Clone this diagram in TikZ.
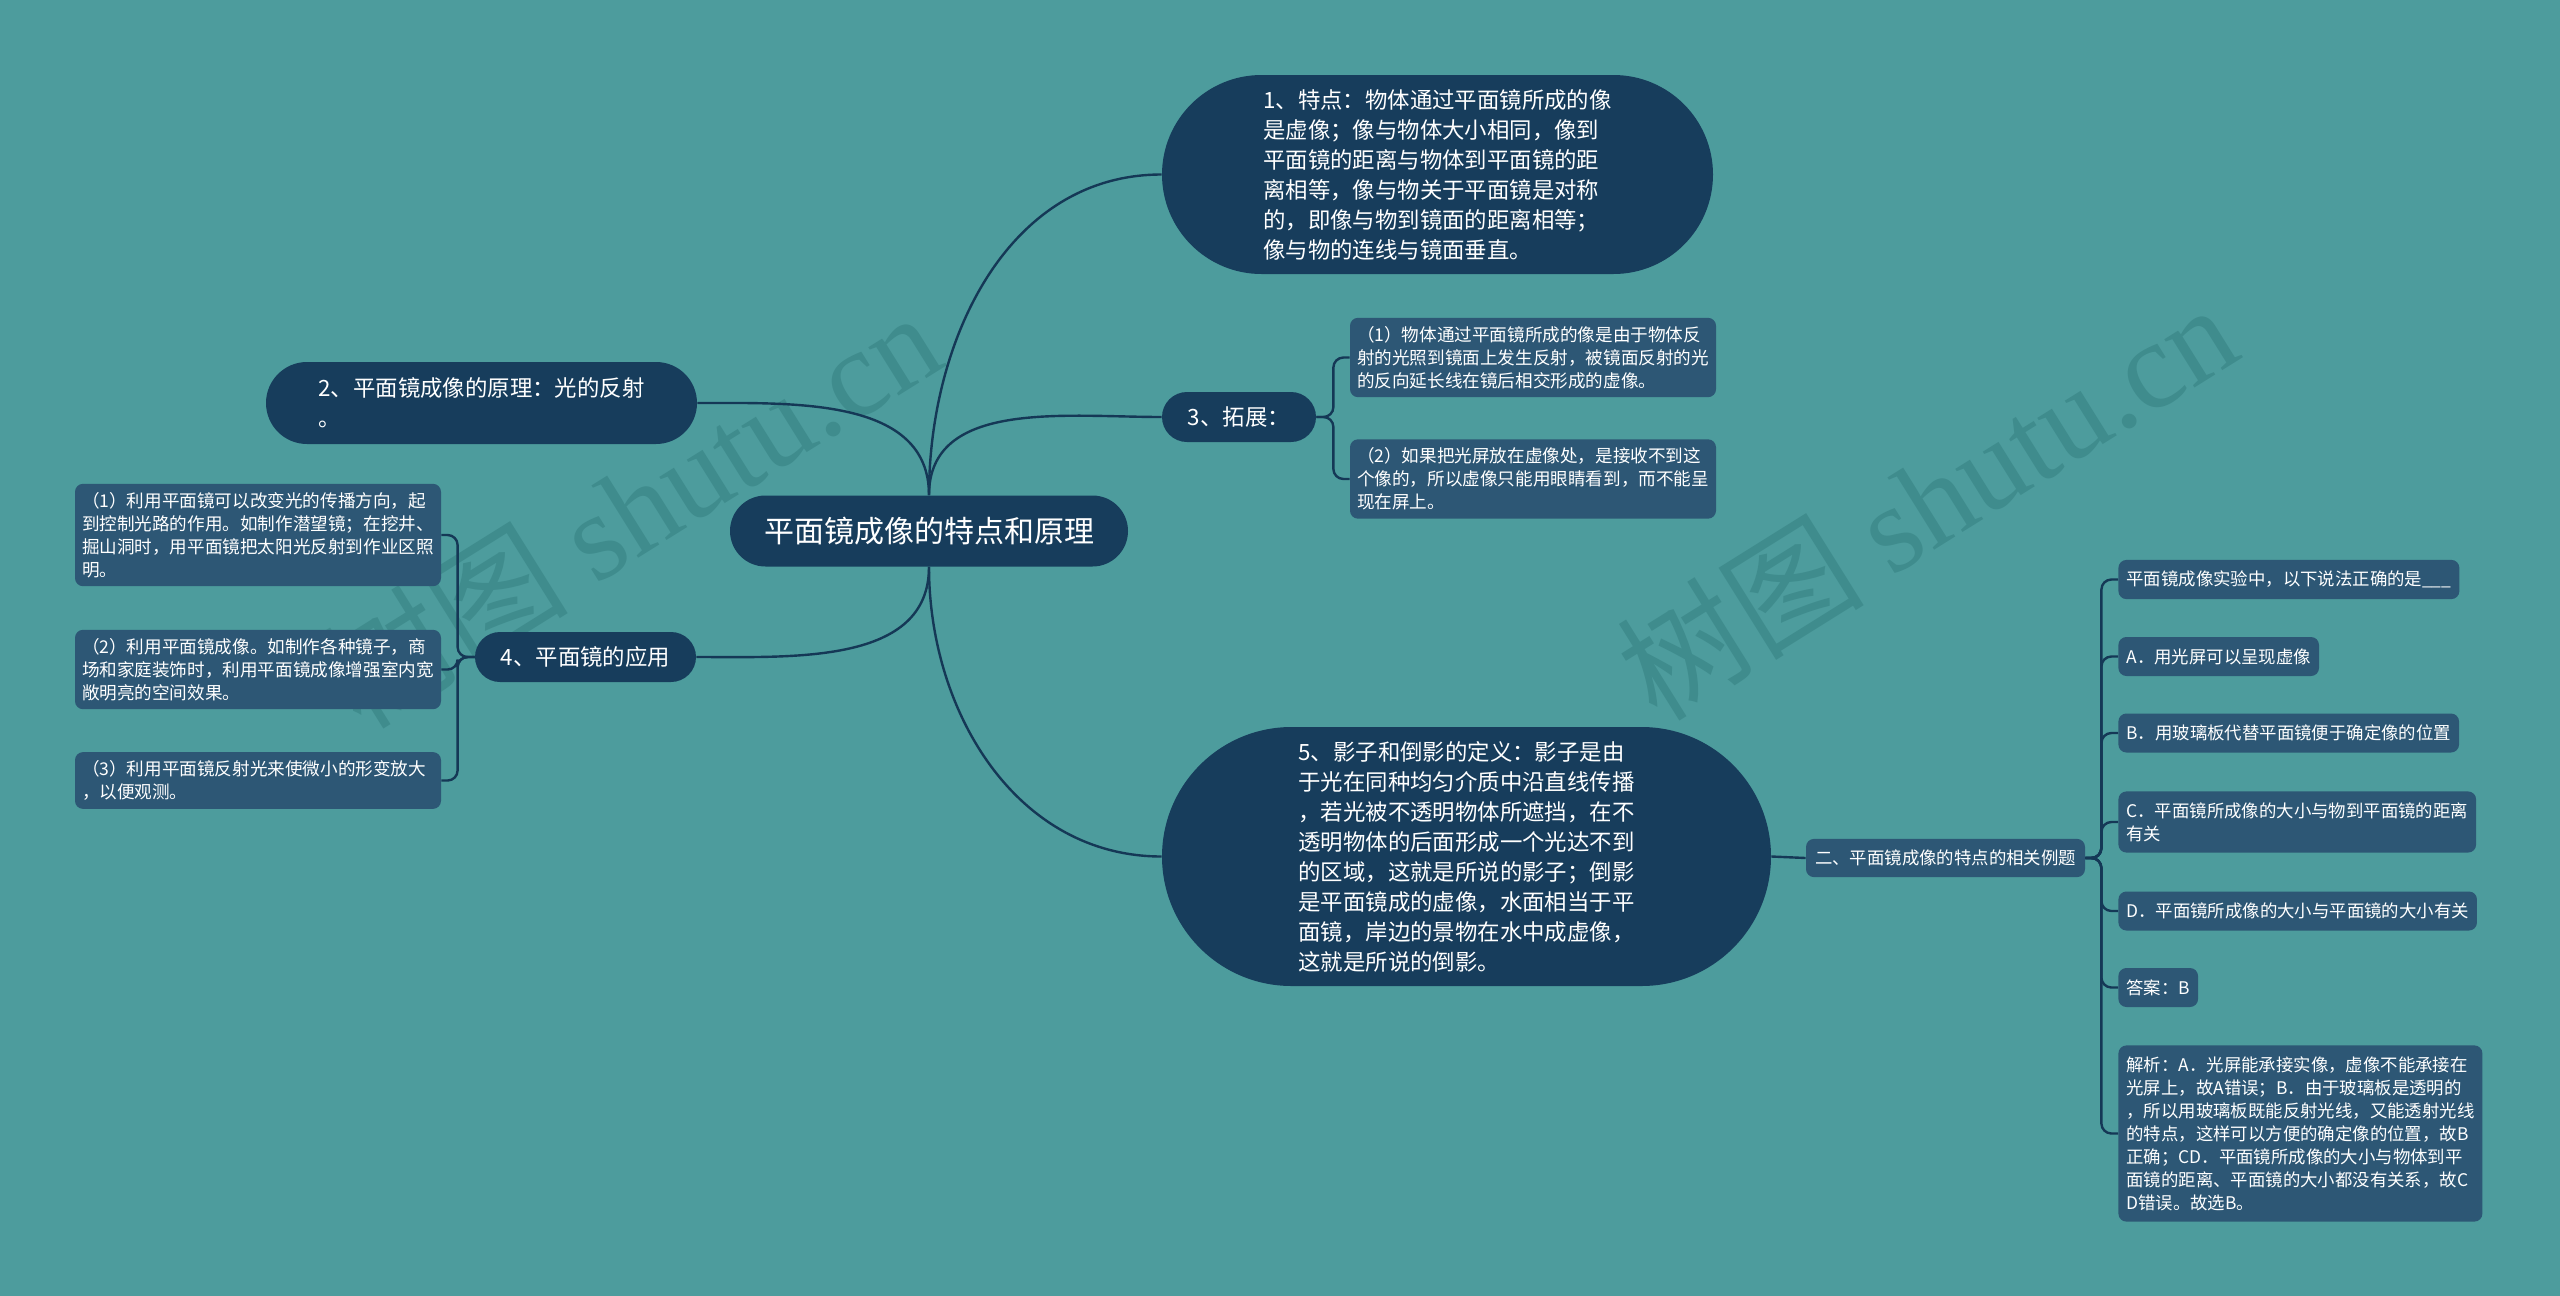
\documentclass[tikz,border=0pt]{standalone}
\usepackage{fontspec}
\setmainfont{Noto Sans CJK SC}
\newfontfamily\wmfont{Liberation Serif}
\usetikzlibrary{shapes.misc}

\definecolor{bgteal}{RGB}{77,156,157}
\definecolor{topicblue}{RGB}{23,61,92}
\definecolor{leafblue}{RGB}{45,87,117}
\definecolor{linkblue}{RGB}{21,56,86}
\definecolor{wmteal}{RGB}{63,140,141}

\tikzset{
  topic/.style={rounded rectangle, fill=topicblue, text=white, inner sep=0pt, align=left,
    font=\fontsize{11.2pt}{15pt}\selectfont},
  leaf/.style={rectangle, rounded corners=4pt, fill=leafblue, text=white, inner xsep=3.5pt,
    inner ysep=4.2pt, text width=176pt, align=left, font=\fontsize{8.8pt}{11.5pt}\selectfont},
  item/.style={rectangle, rounded corners=4pt, fill=leafblue, text=white, inner xsep=4pt,
    inner ysep=5.5pt, minimum height=19.5pt, align=left, anchor=west,
    font=\fontsize{8.7pt}{11.5pt}\selectfont},
  link/.style={draw=linkblue, line width=1.2pt},
  bracket/.style={link, rounded corners=5pt},
  wmark/.style={text=wmteal, rotate=32, font=\fontsize{62pt}{64pt}\selectfont}
}

\begin{document}
\begin{tikzpicture}[x=0.5pt,y=-0.5pt]
		%%%%% START %%%%%
		
		\fill[bgteal] (0,0) rectangle (2560,1296);
		\useasboundingbox (0,0) rectangle (2560,1296);
		
		\node[wmark] (wm1) at (630,508) {树图 {\wmfont shutu.cn}};
		\node[wmark] (wm2) at (1926,500) {树图 {\wmfont shutu.cn}};
		
		\node[topic, minimum width=199pt, minimum height=35.5pt, font=\fontsize{15pt}{18pt}\selectfont] (root) at (929,531) {平面镜成像的特点和原理};
		
		\node[topic, minimum width=275.5pt, minimum height=99.5pt] (n1) at (1437.5,174.5) {1、特点：物体通过平面镜所成的像\\是虚像；像与物体大小相同，像到\\平面镜的距离与物体到平面镜的距\\离相等，像与物关于平面镜是对称\\的，即像与物到镜面的距离相等；\\像与物的连线与镜面垂直。};
		\node[topic, minimum width=215.5pt, minimum height=41pt] (n2) at (481.5,403) {2、平面镜成像的原理：光的反射\\。\hspace{9pt}};
		\node[topic, minimum width=77pt, minimum height=25pt] (n3) at (1239,417) {3、拓展：};
		\node[topic, minimum width=110.5pt, minimum height=25pt] (n4) at (585.5,657) {4、平面镜的应用};
		\node[topic, minimum width=304.5pt, minimum height=129.5pt] (n5) at (1466.5,856.5) {5、影子和倒影的定义：影子是由\\于光在同种均匀介质中沿直线传播\\，若光被不透明物体所遮挡，在不\\透明物体的后面形成一个光达不到\\的区域，这就是所说的影子；倒影\\是平面镜成的虚像，水面相当于平\\面镜，岸边的景物在水中成虚像，\\这就是所说的倒影。};
		
		\node[leaf] (n3a) at (1533,357.5) {（1）物体通过平面镜所成的像是由于物体反\\射的光照到镜面上发生反射，被镜面反射的光\\的反向延长线在镜后相交形成的虚像。};
		\node[leaf] (n3b) at (1533,479) {（2）如果把光屏放在虚像处，是接收不到这\\个像的，所以虚像只能用眼睛看到，而不能呈\\现在屏上。};
		
		\node[leaf] (n4a) at (258,535) {（1）利用平面镜可以改变光的传播方向，起\\到控制光路的作用。如制作潜望镜；在挖井、\\掘山洞时，用平面镜把太阳光反射到作业区照\\明。};
		\node[leaf] (n4b) at (258,669.5) {（2）利用平面镜成像。如制作各种镜子，商\\场和家庭装饰时，利用平面镜成像增强室内宽\\敞明亮的空间效果。};
		\node[leaf] (n4c) at (258,780.5) {（3）利用平面镜反射光来使微小的形变放大\\，以便观测。};
		
		\node[item, anchor=center, minimum width=139.5pt, minimum height=19pt] (ex) at (1945.5,858) {二、平面镜成像的特点的相关例题};
		\node[item] (q) at (2118,579.5) {平面镜成像实验中，以下说法正确的是\_\_\_};
		\node[item] (qa) at (2118,656.5) {A．用光屏可以呈现虚像};
		\node[item] (qb) at (2118,733) {B．用玻璃板代替平面镜便于确定像的位置};
		\node[item] (qc) at (2118,822) {C．平面镜所成像的大小与物到平面镜的距离\\有关};
		\node[item] (qd) at (2118,911) {D．平面镜所成像的大小与平面镜的大小有关};
		\node[item] (ans) at (2118,987.5) {答案：B};
		\node[item] (jx) at (2118,1133.5) {解析：A．光屏能承接实像，虚像不能承接在\\光屏上，故A错误；B．由于玻璃板是透明的\\，所以用玻璃板既能反射光线，又能透射光线\\的特点，这样可以方便的确定像的位置，故B\\正确；CD．平面镜所成像的大小与物体到平\\面镜的距离、平面镜的大小都没有关系，故C\\D错误。故选B。};
		
		\draw[link] (root.north) to[out=90,in=180] (n1.west);
		\draw[link] (root.north) to[out=90,in=0] (n2.east);
		\draw[link] (root.north) to[out=90,in=180] (n3.west);
		\draw[link] (root.south) to[out=-90,in=0] (n4.east);
		\draw[link] (root.south) to[out=-90,in=180] (n5.west);
		\draw[link] (n5.east) -- (ex.west);
		
		\foreach \c in {n3a,n3b}
			\draw[bracket] (n3.east) -- ++(17,0) |- (\c.west);
		\foreach \c in {n4a,n4b,n4c}
			\draw[bracket] (n4.west) -- ++(-17,0) |- (\c.east);
		\foreach \c in {q,qa,qb,qc,qd,ans,jx}
			\draw[bracket] (ex.east) -- ++(16,0) |- (\c.west);
		
		%%%%% END %%%%%
	\end{tikzpicture}
\end{document}
